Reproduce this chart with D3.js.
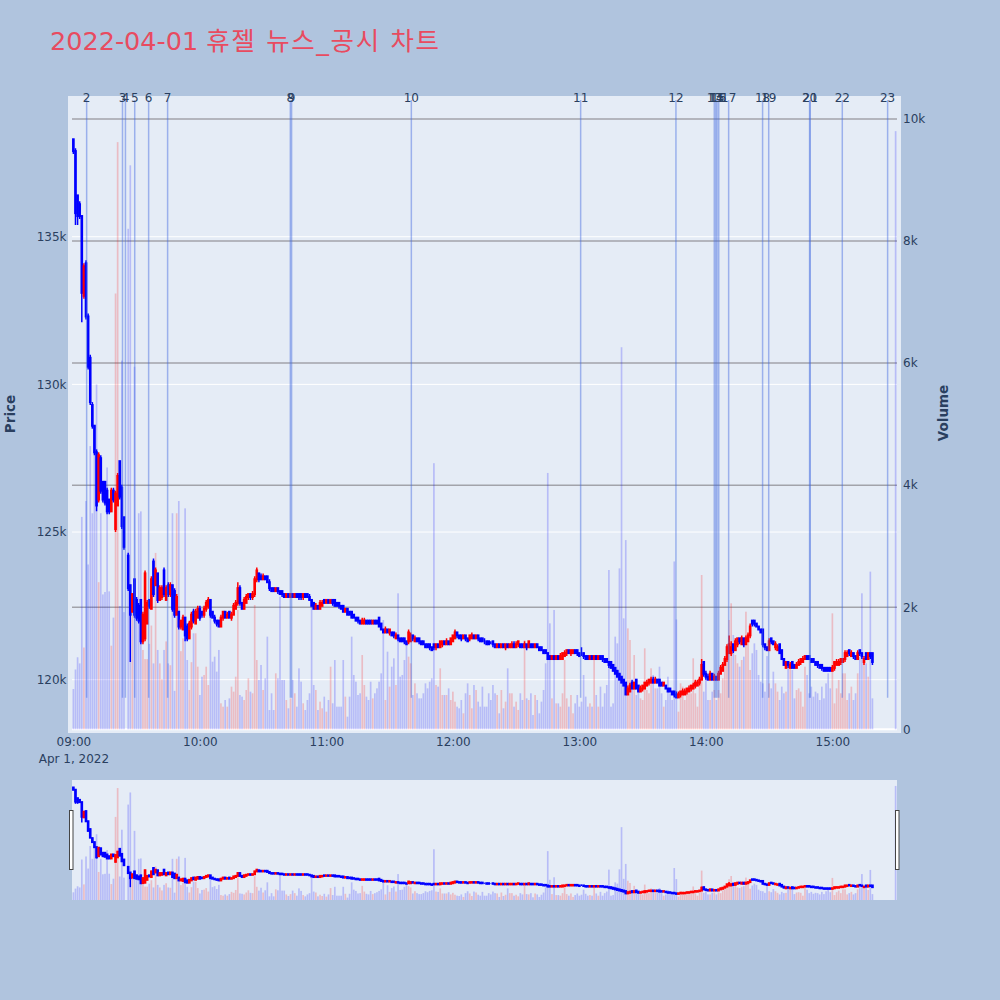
<!DOCTYPE html>
<html><head><meta charset="utf-8">
<script src="https://cdn.jsdelivr.net/npm/d3@7"></script>
<style>
html,body{margin:0;padding:0;background:#b0c4de;}
svg{display:block;}
text{font-family:"DejaVu Sans","Noto Sans CJK KR",sans-serif;}
</style></head><body>
<svg id="chart" width="1000" height="1000"></svg>
<script>
const titleDate = "2022-04-01";
const titleText = "휴젤 뉴스_공시 차트";
const tradeDate = "2022-04-01";
const sessionOpen = "09:00", sessionClose = "15:30";
const PRICE_UNIT = 100; // prices below are in units of 100 KRW

const times = [
"09:00","09:01","09:02","09:03","09:04","09:05","09:06","09:07","09:08","09:09","09:10","09:11","09:12","09:13","09:14","09:15","09:16","09:17","09:18","09:19","09:20","09:21","09:22","09:23","09:24",
"09:26","09:27","09:28","09:29","09:30","09:31","09:32","09:33","09:34","09:35","09:36","09:37","09:38","09:39","09:40","09:41","09:42","09:43","09:44","09:45","09:46","09:47","09:48","09:49","09:50","09:51","09:52","09:53","09:54","09:55","09:56","09:57","09:58","09:59",
"10:00","10:01","10:02","10:03","10:04","10:05","10:06","10:07","10:08","10:09","10:10","10:11","10:12","10:13","10:14","10:15","10:16","10:17","10:18","10:19","10:20","10:21","10:22","10:23","10:24","10:25","10:26","10:27","10:28","10:29","10:30","10:31","10:32","10:33","10:34","10:35","10:36","10:37","10:38","10:39","10:40","10:41","10:42","10:43","10:44","10:45","10:46","10:47","10:48","10:49","10:50","10:51","10:52","10:53","10:54","10:55","10:56","10:57","10:58","10:59",
"11:00","11:01","11:02","11:03","11:04","11:05","11:06","11:07","11:08","11:09","11:10","11:11","11:12","11:13","11:14","11:15","11:16","11:17","11:18","11:19","11:20","11:21","11:22","11:23","11:24","11:25","11:26","11:27","11:28","11:29","11:30","11:31","11:32","11:33","11:34","11:35","11:36","11:37","11:38","11:39","11:40","11:41","11:42","11:43","11:44","11:45","11:46","11:47","11:48","11:49","11:50","11:51","11:52","11:53","11:54","11:55","11:56","11:57","11:58","11:59",
"12:00","12:01","12:02","12:03","12:04","12:05","12:06","12:07","12:08","12:09","12:10","12:11","12:12","12:13","12:14","12:15","12:16","12:17","12:18","12:19","12:20","12:21","12:22","12:23","12:24","12:25","12:26","12:27","12:28","12:29","12:30","12:31","12:32","12:33","12:34","12:35","12:36","12:37","12:38","12:39","12:40","12:41","12:42","12:43","12:44","12:45","12:46","12:47","12:48","12:49","12:50","12:51","12:52","12:53","12:54","12:55","12:56","12:57","12:58","12:59",
"13:00","13:01","13:02","13:03","13:04","13:05","13:06","13:07","13:08","13:09","13:10","13:11","13:12","13:13","13:14","13:15","13:16","13:17","13:18","13:19","13:20","13:21","13:22","13:23","13:24","13:25","13:26","13:27","13:28","13:29","13:30","13:31","13:32","13:33","13:34","13:35","13:36","13:37","13:38","13:39","13:40","13:41","13:42","13:43","13:44","13:45","13:46","13:47","13:48","13:49","13:50","13:51","13:52","13:53","13:54","13:55","13:56","13:57","13:58","13:59",
"14:00","14:01","14:02","14:03","14:04","14:05","14:06","14:07","14:08","14:09","14:10","14:11","14:12","14:13","14:14","14:15","14:16","14:17","14:18","14:19","14:20","14:21","14:22","14:23","14:24","14:25","14:26","14:27","14:28","14:29","14:30","14:31","14:32","14:33","14:34","14:35","14:36","14:37","14:38","14:39","14:40","14:41","14:42","14:43","14:44","14:45","14:46","14:47","14:48","14:49","14:50","14:51","14:52","14:53","14:54","14:55","14:56","14:57","14:58","14:59",
"15:00","15:01","15:02","15:03","15:04","15:05","15:06","15:07","15:08","15:09","15:10","15:11","15:12","15:13","15:14","15:15","15:16","15:17","15:18","15:19","15:30"];

const open = [
1383,1379,1364,1361,1357,1330,1341,1323,1309,1293,1286,1277,1261,1275,1267,1267,1264,1261,1257,1264,1251,1259,1274,1265,1255,
1242,1232,1223,1234,
1227,1225,1227,1213,1214,1219,1227,1224,1240,1232,1236,1227,1228,1237,1227,1232,1229,1232,1230,1222,
1223,1218,1217,1221,1218,1214,1218,1223,1219,1221,1224,1223,1222,1224,1225,1227,1223,1221,1220,1220,
1218,1221,1223,1221,1223,1221,1222,1224,1226,1231,1226,1224,1226,1228,1229,1228,1229,1234,1236,1235,
1234,1235,1235,1233,1231,1231,1230,1231,1230,1230,1229,1228,1229,1228,1229,1228,1229,1229,1229,1228,
1229,1229,1228,1227,1226,1224,1225,1224,1225,1227,1226,1227,1226,1227,1227,1226,1226,1225,1225,1223,
1224,1223,1223,1222,1221,1221,1220,1219,1219,1220,1220,1220,1219,1220,1220,1221,1219,1217,1216,1217,
1216,1216,1216,1214,1215,1214,1214,1214,1213,1213,1213,1215,1213,1214,1214,1213,1213,1212,1212,1212,
1211,1212,1211,1212,1211,1212,1213,1212,1213,1212,1213,1214,1216,1215,1215,1214,1215,1214,1214,1214,
1215,1214,1215,1214,1214,1213,1213,1213,1212,1213,1212,1211,1212,1211,1212,1211,1212,1211,1211,1212,
1211,1212,1212,1212,1211,1212,1211,1212,1212,1211,1212,1211,1211,1210,1210,1209,1208,1207,1208,1207,
1208,1207,1207,1208,1209,1210,1209,1209,1210,1210,1209,1209,1209,1208,1208,1207,1208,1207,1208,1207,
1208,1208,1207,1207,1206,1206,1205,1204,1203,1202,1201,1200,1199,1195,1196,1199,1197,1200,1198,1196,
1197,1197,1198,1199,1199,1200,1199,1200,1200,1199,1198,1198,1197,1197,1196,1196,1195,1194,1195,1195,
1195,1196,1196,1197,1197,1198,1198,1199,1200,1206,1202,1201,1200,1202,1200,1201,1200,1202,1203,1205,
1207,1209,1209,1212,1210,1212,1214,1212,1214,1212,1213,1215,1220,1220,1219,1218,1217,1217,1212,1211,
1210,1214,1213,1211,1210,1212,1210,1207,1204,1206,1204,1206,1205,1204,1205,1206,1206,1207,1208,1208,
1207,1207,1206,1206,1205,1205,1204,1204,1204,1204,1203,1204,1205,1205,1206,1206,1207,1208,1210,1208,
1209,1208,1207,1210,1209,1206,1209,1207,1209,1209,
1207];

const high = [
1383,1380,1364,1362,1357,1341,1342,1324,1310,1294,1286,1278,1277,1276,1267,1267,1265,1261,1265,1265,1264,1270,1274,1266,1255,
1243,1232,1229,1234,
1228,1226,1227,1223,1237,1227,1227,1235,1241,1238,1236,1232,1232,1238,1232,1233,1233,1232,1231,1229,
1223,1220,1222,1221,1219,1220,1223,1224,1224,1225,1225,1223,1225,1227,1228,1227,1223,1222,1220,1220,
1222,1223,1223,1223,1223,1223,1226,1227,1233,1232,1226,1228,1229,1229,1229,1230,1235,1238,1236,1236,
1236,1235,1235,1234,1231,1231,1231,1231,1230,1230,1229,1229,1229,1229,1229,1229,1229,1229,1229,1229,
1229,1229,1229,1227,1226,1226,1225,1227,1227,1227,1227,1227,1227,1227,1227,1226,1226,1225,1225,1224,
1224,1223,1223,1222,1221,1221,1220,1221,1221,1220,1220,1220,1220,1220,1220,1221,1219,1217,1218,1217,
1217,1216,1216,1216,1215,1214,1214,1214,1213,1217,1216,1215,1215,1214,1214,1213,1213,1212,1212,1212,
1211,1212,1212,1212,1213,1213,1213,1214,1213,1214,1215,1217,1216,1215,1215,1215,1215,1214,1215,1216,
1215,1215,1215,1214,1214,1214,1213,1213,1213,1213,1212,1212,1212,1212,1212,1212,1212,1212,1213,1213,
1213,1213,1212,1212,1213,1212,1213,1212,1212,1212,1212,1211,1211,1210,1210,1209,1208,1208,1208,1208,
1208,1209,1209,1210,1210,1210,1210,1210,1210,1210,1209,1211,1209,1208,1208,1208,1208,1208,1208,1208,
1208,1208,1207,1207,1206,1206,1205,1204,1203,1202,1201,1200,1199,1198,1199,1200,1199,1200,1198,1198,
1198,1199,1200,1200,1201,1201,1201,1200,1200,1199,1199,1198,1197,1197,1196,1196,1196,1196,1196,1197,
1197,1197,1198,1198,1199,1200,1200,1201,1207,1206,1203,1202,1203,1202,1202,1201,1203,1205,1206,1208,
1212,1215,1213,1212,1214,1214,1214,1215,1214,1215,1216,1219,1220,1220,1219,1218,1217,1217,1212,1211,
1214,1214,1213,1213,1212,1212,1210,1207,1206,1206,1206,1206,1205,1206,1207,1207,1208,1208,1208,1208,
1207,1207,1206,1206,1205,1205,1204,1204,1204,1204,1205,1206,1207,1207,1207,1207,1210,1210,1210,1210,
1209,1208,1210,1210,1209,1208,1209,1209,1209,1209,
1207];

const low = [
1378,1354,1354,1356,1321,1329,1322,1305,1293,1285,1276,1257,1260,1263,1260,1259,1256,1256,1257,1260,1250,1259,1261,1251,1244,
1230,1206,1223,1221,
1220,1219,1212,1212,1213,1219,1224,1224,1228,1232,1226,1227,1227,1228,1227,1228,1228,1223,1221,1222,
1217,1217,1217,1213,1213,1214,1217,1219,1219,1221,1220,1221,1221,1223,1224,1221,1221,1219,1218,1218,
1218,1220,1221,1221,1221,1220,1222,1224,1225,1225,1224,1224,1226,1227,1227,1227,1228,1233,1233,1234,
1234,1234,1233,1230,1230,1230,1230,1229,1229,1228,1228,1228,1228,1228,1228,1228,1228,1227,1227,1227,
1228,1228,1227,1225,1224,1224,1224,1224,1225,1226,1226,1226,1226,1225,1225,1225,1224,1224,1223,1223,
1222,1222,1221,1221,1220,1219,1219,1219,1219,1219,1219,1219,1219,1219,1219,1218,1217,1216,1216,1216,
1215,1215,1214,1214,1213,1213,1213,1212,1212,1212,1213,1213,1213,1213,1212,1212,1212,1211,1211,1210,
1210,1210,1210,1211,1211,1211,1212,1212,1212,1212,1213,1214,1214,1214,1213,1214,1213,1213,1213,1214,
1214,1214,1213,1213,1213,1212,1212,1212,1212,1211,1211,1211,1211,1211,1211,1210,1211,1211,1211,1211,
1211,1211,1211,1211,1211,1210,1211,1211,1211,1211,1211,1210,1210,1209,1209,1207,1207,1207,1207,1207,
1207,1207,1207,1208,1208,1209,1208,1209,1209,1208,1208,1208,1207,1207,1207,1207,1207,1207,1207,1207,
1207,1206,1206,1206,1204,1204,1203,1202,1201,1200,1199,1198,1195,1195,1196,1197,1197,1197,1196,1196,
1196,1197,1198,1198,1199,1199,1199,1199,1198,1198,1198,1197,1196,1196,1195,1194,1194,1194,1194,1195,
1195,1195,1196,1196,1197,1197,1198,1198,1200,1201,1200,1200,1200,1200,1200,1200,1200,1202,1203,1205,
1206,1209,1208,1209,1210,1211,1212,1212,1211,1212,1213,1214,1218,1218,1218,1217,1216,1211,1210,1210,
1210,1212,1212,1210,1210,1209,1207,1205,1204,1204,1204,1204,1204,1204,1205,1205,1206,1207,1207,1207,
1206,1206,1205,1204,1204,1203,1203,1203,1203,1203,1203,1203,1205,1205,1205,1206,1206,1208,1208,1208,
1207,1207,1207,1208,1207,1205,1207,1207,1207,1205,
1207];

const close = [
1379,1358,1357,1357,1331,1340,1323,1306,1294,1286,1277,1259,1276,1264,1261,1260,1257,1257,1264,1261,1263,1269,1262,1252,1245,
1231,1222,1229,1222,
1221,1220,1213,1222,1236,1226,1225,1234,1229,1237,1227,1231,1231,1229,1231,1229,1232,1224,1222,1228,
1218,1220,1221,1215,1214,1219,1222,1220,1223,1224,1221,1222,1224,1226,1227,1222,1221,1220,1219,1218,
1221,1223,1221,1222,1221,1222,1225,1226,1231,1226,1224,1227,1228,1229,1228,1229,1234,1237,1234,1234,
1235,1234,1233,1231,1230,1230,1231,1230,1229,1229,1228,1229,1228,1229,1228,1229,1228,1228,1228,1229,
1228,1228,1227,1225,1224,1225,1224,1226,1226,1226,1227,1226,1227,1226,1225,1225,1225,1224,1223,1224,
1222,1222,1221,1221,1220,1220,1219,1220,1220,1219,1219,1219,1220,1219,1219,1218,1217,1216,1217,1216,
1217,1215,1215,1215,1214,1213,1213,1213,1212,1216,1215,1214,1214,1213,1213,1212,1212,1211,1211,1211,
1210,1211,1212,1211,1213,1213,1212,1213,1212,1214,1215,1216,1215,1214,1214,1215,1214,1213,1215,1215,
1214,1215,1214,1213,1213,1213,1212,1212,1212,1212,1211,1212,1211,1212,1211,1212,1211,1212,1212,1211,
1212,1213,1211,1211,1212,1211,1213,1211,1211,1212,1211,1210,1210,1209,1209,1207,1207,1208,1207,1208,
1207,1208,1209,1209,1210,1209,1210,1210,1209,1209,1208,1209,1208,1207,1207,1208,1207,1208,1207,1208,
1207,1207,1206,1206,1205,1204,1203,1202,1201,1200,1199,1198,1195,1197,1198,1197,1199,1197,1196,1197,
1198,1199,1199,1200,1200,1199,1200,1199,1198,1198,1199,1197,1196,1196,1195,1195,1194,1195,1196,1196,
1196,1197,1197,1198,1198,1199,1199,1200,1205,1202,1201,1200,1202,1200,1201,1200,1202,1204,1205,1207,
1211,1212,1211,1210,1213,1214,1213,1214,1212,1214,1215,1218,1219,1219,1218,1217,1216,1212,1211,1210,
1213,1213,1212,1212,1211,1209,1207,1205,1206,1205,1205,1204,1204,1205,1206,1207,1207,1208,1207,1207,
1206,1206,1205,1205,1204,1204,1203,1203,1203,1203,1204,1206,1206,1206,1207,1207,1209,1209,1209,1209,
1208,1207,1209,1209,1208,1207,1207,1209,1208,1206,
1207];

const volume = [
660,980,1180,1080,3480,1340,3740,2700,4640,3540,4580,5650,2410,3540,2210,2250,4290,2260,1370,1830,7140,9620,2020,6040,1920,
8200,9240,2180,5940,
1920,3540,3570,1300,1150,1150,1400,1700,1080,2890,1300,1080,820,1300,1440,1080,1050,3540,630,3540,
3740,1280,1490,3620,1135,644,1100,1573,1573,1026,562,862,890,1026,726,1873,1108,1190,945,1300,
426,371,480,371,507,699,617,862,1955,562,535,480,644,835,617,590,2037,1135,808,1054,
644,835,1518,316,590,316,917,835,2173,808,808,480,344,507,808,590,371,999,781,426,
316,480,590,2009,726,644,316,453,344,535,289,480,1026,426,1135,371,371,371,1135,535,
207,535,1518,890,780,562,590,1217,726,535,480,780,507,590,671,780,917,1791,480,1272,
699,1026,1163,726,2228,862,890,1135,1436,1190,1081,562,753,590,507,507,590,753,671,780,
835,4360,726,699,999,562,562,562,671,480,617,453,371,344,480,262,590,753,562,344,
726,644,453,371,699,371,371,590,480,726,590,562,262,644,344,453,999,590,590,371,
453,317,590,480,1460,507,480,590,234,562,480,262,453,644,1081,4200,1736,507,1955,425,
425,371,590,1135,507,371,562,262,425,562,371,453,890,535,371,425,371,1135,562,371,
699,371,590,726,2610,371,425,1518,1408,2637,6260,1818,3100,1654,1463,671,1217,562,699,507,
480,1327,644,590,999,890,671,671,1026,590,371,480,862,590,480,2750,1800,289,753,699,
480,671,590,590,1163,590,371,862,2528,617,890,480,480,617,644,480,644,590,835,1081,
1135,1791,2064,1545,1217,1081,1026,1135,1190,1927,1491,972,1245,1408,1300,890,780,753,617,1200,
753,671,944,753,617,480,699,590,617,1108,1026,972,507,644,671,617,371,1026,890,590,
699,535,617,590,480,699,507,753,917,671,1900,425,671,808,590,917,917,480,590,699,
480,590,917,1190,2228,1135,1081,862,2583,507,
9800];

const newsLabels = ["1","2","3","4","5","6","7","8","9","10","11","12","13","14","15","16","17","18","19","20","21","22","23"];
const newsTimes = ["08:40:00","09:06:18","09:23:18","09:24:42","09:29:06","09:35:42","09:44:42","10:42:54","10:43:30","11:40:18",
"13:00:36","13:45:48","14:04:00","14:04:42","14:05:18","14:06:06","14:10:48","14:26:54","14:29:48","14:49:12","14:49:30","15:04:42","15:26:12"];

const priceTicks = [120000,125000,130000,135000];
const volumeTicks = [0,2000,4000,6000,8000,10000];
const hourTicks = ["09:00","10:00","11:00","12:00","13:00","14:00","15:00"];

// ---------------- drawing ----------------
const svg = d3.select("#chart");
const fontColor = "#2a3f5f";
const parseHM = d3.timeParse("%Y-%m-%d %H:%M");
const parseHMS = d3.timeParse("%Y-%m-%d %H:%M:%S");
const bars = times.map((t,i)=>({
  date: parseHM(tradeDate+" "+t),
  o: open[i]*PRICE_UNIT, h: high[i]*PRICE_UNIT, l: low[i]*PRICE_UNIT, c: close[i]*PRICE_UNIT,
  v: volume[i]
}));
bars.forEach(d=>{ d.up = d.c > d.o; });

const P = {x0:72, x1:897, y0:100, y1:729.3};
const S = {y0:780, y1:900};
const t0 = parseHM(tradeDate+" "+sessionOpen), t1 = parseHM(tradeDate+" "+sessionClose);
const padMs = 39*1000;
const x = d3.scaleTime().domain([new Date(+t0-padMs), new Date(+t1+padMs)]).range([P.x0, P.x1]);
const yP = d3.scaleLinear().domain([118320, 139630]).range([P.y1, P.y0]);
const yV = d3.scaleLinear().domain([0, 10310]).range([P.y1, P.y0]);
const ySP = d3.scaleLinear().domain(yP.domain()).range([S.y1, S.y0]);
const ySV = d3.scaleLinear().domain(yV.domain()).range([S.y1, S.y0]);
const dx = x(new Date(+t0+60000)) - x(t0);

// title
const title = svg.append("text").attr("x",50).attr("y",50).attr("font-size",25.5).attr("fill","#e84b60");
title.append("tspan").text(titleDate + " ");
title.append("tspan").attr("letter-spacing",1.6).text(titleText);

// backgrounds
svg.append("rect").attr("x",68).attr("y",96).attr("width",833).attr("height",637).attr("fill","#e5ecf6");
svg.append("rect").attr("x",P.x0).attr("y",S.y0).attr("width",P.x1-P.x0).attr("height",S.y1-S.y0).attr("fill","#e5ecf6");

const defs = svg.append("defs");
defs.append("clipPath").attr("id","clipMain").append("rect").attr("x",P.x0).attr("y",P.y0).attr("width",P.x1-P.x0).attr("height",P.y1-P.y0+1);
defs.append("clipPath").attr("id","clipSlider").append("rect").attr("x",P.x0).attr("y",S.y0).attr("width",P.x1-P.x0).attr("height",S.y1-S.y0);

// grids
const grid = svg.append("g");
grid.selectAll(".pg").data(priceTicks).join("line")
  .attr("x1",P.x0).attr("x2",P.x1).attr("y1",d=>yP(d)).attr("y2",d=>yP(d))
  .attr("stroke","#ffffff").attr("stroke-width",1);
grid.selectAll(".vg").data(volumeTicks.filter(d=>d>0)).join("line")
  .attr("x1",P.x0).attr("x2",P.x1).attr("y1",d=>yV(d)).attr("y2",d=>yV(d))
  .attr("stroke","#a2a3aa").attr("stroke-width",1.5);
grid.append("line").attr("x1",P.x0).attr("x2",P.x1).attr("y1",yV(0)).attr("y2",yV(0))
  .attr("stroke","#ffffff").attr("stroke-width",2);

function drawVolume(g, yScale){
  g.selectAll("rect").data(bars).join("rect")
    .attr("x",d=>x(d.date)-dx*0.4).attr("width",dx*0.8)
    .attr("y",d=>yScale(d.v)).attr("height",d=>yScale(0)-yScale(d.v))
    .attr("fill",d=>d.up?"#ff0000":"#0000ff").attr("fill-opacity",0.2);
}
function drawCandles(g, yScale){
  const cg = g.selectAll("g").data(bars).join("g")
    .attr("stroke",d=>d.up?"#ff0000":"#0000ff").attr("fill",d=>d.up?"#ff0000":"#0000ff");
  cg.append("line").attr("x1",d=>x(d.date)).attr("x2",d=>x(d.date))
    .attr("y1",d=>yScale(d.h)).attr("y2",d=>yScale(d.l)).attr("stroke-width",1.5);
  const bw = dx*0.3;
  cg.append("rect").attr("x",d=>x(d.date)-bw/2).attr("width",bw)
    .attr("y",d=>yScale(Math.max(d.o,d.c))).attr("height",d=>Math.abs(yScale(d.o)-yScale(d.c)))
    .attr("stroke-width",2);
}

const main = svg.append("g").attr("clip-path","url(#clipMain)");
drawVolume(main.append("g"), yV);
drawCandles(main.append("g"), yP);

// news lines
const news = newsTimes.map((t,i)=>({date: parseHMS(tradeDate+" "+t), label: newsLabels[i]}))
  .filter(d=>d.date>=x.domain()[0] && d.date<=x.domain()[1]);
const newsG = svg.append("g");
newsG.selectAll("line").data(news).join("line")
  .attr("x1",d=>x(d.date)).attr("x2",d=>x(d.date))
  .attr("y1",P.y0).attr("y2",P.y1-(P.y1-P.y0)*0.05)
  .attr("stroke","rgb(65,105,225)").attr("stroke-opacity",0.45).attr("stroke-width",1.5);
newsG.selectAll("text").data(news).join("text")
  .attr("x",d=>x(d.date)).attr("y",102).attr("text-anchor","middle")
  .attr("font-size",12).attr("fill",fontColor).text(d=>d.label);

// axes
const fmtK = d3.format("~s");
const axL = svg.append("g").attr("transform",`translate(${P.x0},0)`)
  .call(d3.axisLeft(yP).tickValues(priceTicks).tickSize(0).tickPadding(5.5).tickFormat(fmtK));
const axR = svg.append("g").attr("transform",`translate(${P.x1},0)`)
  .call(d3.axisRight(yV).tickValues(volumeTicks).tickSize(0).tickPadding(6).tickFormat(fmtK));
const hourDates = hourTicks.map(h=>parseHM(tradeDate+" "+h));
const axB = svg.append("g").attr("transform",`translate(0,${P.y1})`)
  .call(d3.axisBottom(x).tickValues(hourDates).tickSize(0).tickPadding(8.3).tickFormat(d3.timeFormat("%H:%M")));
[axL,axR,axB].forEach(a=>{
  a.select(".domain").remove();
  a.selectAll("text").attr("font-size",12).attr("fill",fontColor).attr("font-family",'"DejaVu Sans",sans-serif');
});
axB.selectAll(".tick").filter((d,i)=>i===0).append("text")
  .attr("y",25.2).attr("dy","0.71em").attr("text-anchor","middle").attr("font-size",12)
  .attr("fill",fontColor).attr("font-family",'"DejaVu Sans",sans-serif').text(d3.timeFormat("%b %-d, %Y")(hourDates[0]));

// axis titles
svg.append("text").attr("transform","translate(10,414) rotate(-90)").attr("text-anchor","middle")
  .attr("dominant-baseline","central").attr("font-size",13.5).attr("font-weight","bold").attr("fill",fontColor).text("Price");
svg.append("text").attr("transform","translate(943,413) rotate(-90)").attr("text-anchor","middle")
  .attr("dominant-baseline","central").attr("font-size",13.5).attr("font-weight","bold").attr("fill",fontColor).text("Volume");

// range slider
const slider = svg.append("g").attr("clip-path","url(#clipSlider)");
drawVolume(slider.append("g"), ySV);
drawCandles(slider.append("g"), ySP);
[P.x0-2.5, P.x1-1.5].forEach(hx=>{
  svg.append("rect").attr("x",hx).attr("y",810.5).attr("width",3.5).attr("height",59)
    .attr("fill","#ffffff").attr("stroke","#444").attr("stroke-width",1);
});
</script>
</body></html>
